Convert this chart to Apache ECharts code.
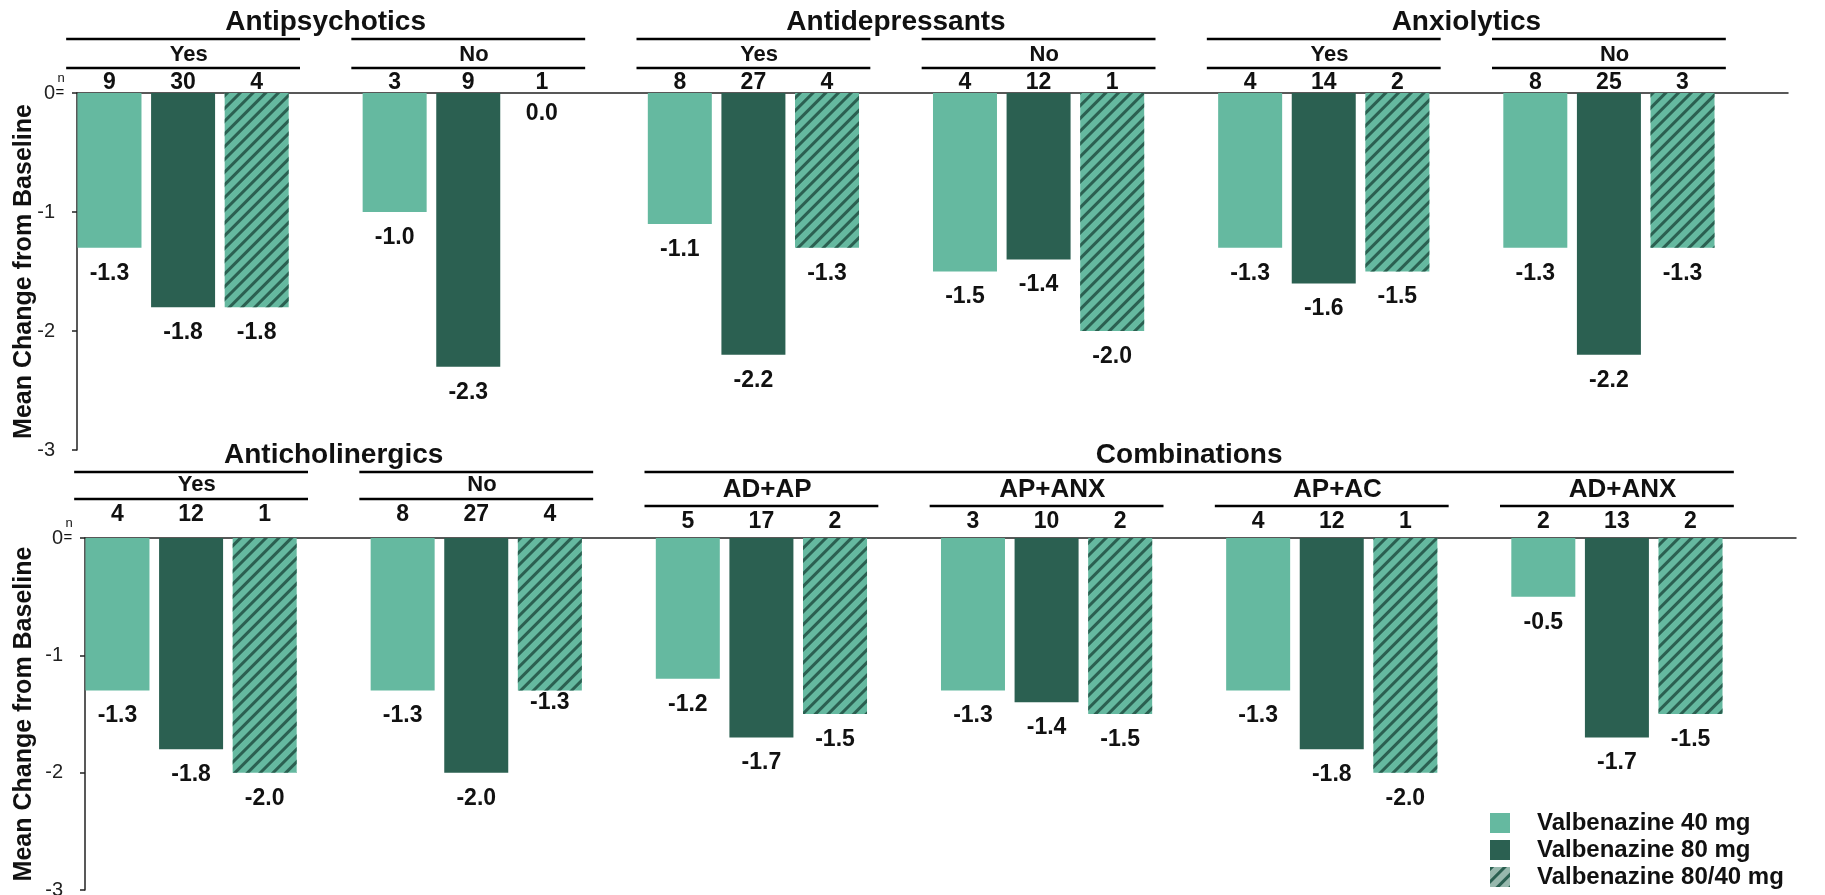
<!DOCTYPE html>
<html>
<head>
<meta charset="utf-8">
<title>Valbenazine - mean change from baseline by concomitant medication</title>
<script src="https://cdn.jsdelivr.net/npm/echarts@6/dist/echarts.min.js"></script>
<style>
  html, body { margin: 0; padding: 0; background: #fff; }
  #chart { width: 1825px; height: 895px; }
</style>
</head>
<body>
<div id="chart"></div>
<script>
// 数据
const seriesNames = ['Valbenazine 40 mg', 'Valbenazine 80 mg', 'Valbenazine 80/40 mg']

// top row: antipsychotics / antidepressants / anxiolytics, yes + no each
const topClasses = ['Antipsychotics', 'Antidepressants', 'Anxiolytics']
const topGroups = ['Yes', 'No', 'Yes', 'No', 'Yes', 'No']
const top40 = [-1.3, -1.0, -1.1, -1.5, -1.3, -1.3]
const top80 = [-1.8, -2.3, -2.2, -1.4, -1.6, -2.2]
const top8040 = [-1.8, 0.0, -1.3, -2.0, -1.5, -1.3]
const topN40 = [9, 3, 8, 4, 4, 8]
const topN80 = [30, 9, 27, 12, 14, 25]
const topN8040 = [4, 1, 4, 1, 2, 3]

// bottom row: anticholinergics yes/no + combinations
const botClasses = ['Anticholinergics', 'Combinations']
const botGroups = ['Yes', 'No', 'AD+AP', 'AP+ANX', 'AP+AC', 'AD+ANX']
const bot40 = [-1.3, -1.3, -1.2, -1.3, -1.3, -0.5]
const bot80 = [-1.8, -2.0, -1.7, -1.4, -1.8, -1.7]
const bot8040 = [-2.0, -1.3, -1.5, -1.5, -2.0, -1.5]
const botN40 = [4, 8, 5, 3, 4, 2]
const botN80 = [12, 27, 17, 10, 12, 13]
const botN8040 = [1, 4, 2, 2, 1, 2]

const yTicks = [0, -1, -2, -3]

// 样式
const FONT = '"Liberation Sans", Arial, sans-serif'
const LIGHT = '#65b9a0'
const DARK = '#2b6051'
const INK = '#111'
const hatch = {
  symbol: 'rect',
  symbolSize: 1,
  dashArrayX: [1, 0],
  dashArrayY: [3, 6],
  rotation: -Math.PI / 4,
  color: DARK
}
const barStyles = [
  {color: LIGHT},
  {color: DARK},
  {color: LIGHT, decal: hatch}
]
const X_MIN = -0.372
const X_MAX = 5.628
const HALF = 0.41 // half width of the header rules, in group units
const LABEL_DIST = 14
// a few value labels sit closer to their bar in the original: 'row-series-index': distance
const labelDist = {'0-2-1': 9, '1-2-1': 1}

// header offsets above the zero line (px)
const headTop = {title: 71, line1: 54, label: 38, labelSize: 22, line2: 25, n: 10}
const headBot = {title: 83, line1: 66, label: 53, labelSize: 22, line2: 39, n: 23}
const headComb = {title: 83, line1: 66, label: 48, labelSize: 26, line2: 32, n: 16}

const rows = [
  {
    groups: topGroups,
    values: [top40, top80, top8040],
    n: [topN40, topN80, topN8040],
    grid: {left: 77, top: 93, width: 1711, height: 357},
    nameGap: 40,
    blocks: [
      {title: topClasses[0], from: 0, to: 1, joined: false, head: headTop},
      {title: topClasses[1], from: 2, to: 3, joined: false, head: headTop},
      {title: topClasses[2], from: 4, to: 5, joined: false, head: headTop}
    ]
  },
  {
    groups: botGroups,
    values: [bot40, bot80, bot8040],
    n: [botN40, botN80, botN8040],
    grid: {left: 85, top: 538, width: 1711, height: 352},
    nameGap: 48,
    blocks: [
      {title: botClasses[0], from: 0, to: 1, joined: false, head: headBot},
      {title: botClasses[1], from: 2, to: 5, joined: true, head: headComb}
    ]
  }
]

const chart = echarts.init(document.getElementById('chart'))

function barSeries (row, r, k) {
  return {
    name: seriesNames[k],
    type: 'bar',
    xAxisIndex: r,
    yAxisIndex: r,
    barWidth: 64,
    barGap: '15%',
    itemStyle: barStyles[k],
    label: {
      show: true,
      position: 'bottom',
      distance: LABEL_DIST,
      color: INK,
      fontFamily: FONT,
      fontWeight: 'bold',
      fontSize: 23,
      formatter: p => p.value[1].toFixed(1)
    },
    data: row.values[k].map((v, i) => {
      const item = {value: [i, v]}
      const d = labelDist[r + '-' + k + '-' + i]
      if (d !== undefined) item.label = {distance: d}
      return item
    })
  }
}

const option = {
  animation: false,
  backgroundColor: '#fff',
  grid: rows.map(row => Object.assign({outerBoundsMode: 'none', containLabel: false}, row.grid)),
  xAxis: rows.map((row, r) => ({
    type: 'value',
    gridIndex: r,
    min: X_MIN,
    max: X_MAX,
    position: 'top',
    axisLine: {show: true, onZero: false, lineStyle: {color: '#222', width: 1.5}},
    axisTick: {show: false},
    axisLabel: {show: false},
    splitLine: {show: false}
  })),
  yAxis: rows.map((row, r) => ({
    type: 'value',
    gridIndex: r,
    position: 'left',
    min: yTicks[yTicks.length - 1],
    max: yTicks[0],
    interval: 1,
    name: 'Mean Change from Baseline',
    nameLocation: 'middle',
    nameRotate: 90,
    nameGap: row.nameGap,
    nameMoveOverlap: false,
    nameTextStyle: {color: INK, fontFamily: FONT, fontWeight: 'bold', fontSize: 25},
    axisLine: {show: true, onZero: false, lineStyle: {color: '#222', width: 1.5}},
    axisTick: {show: true, length: 5, lineStyle: {color: '#222', width: 1.5}},
    axisLabel: {color: '#222', fontFamily: FONT, fontSize: 20, margin: 22},
    splitLine: {show: false}
  })),
  legend: {
    orient: 'vertical',
    left: 1490,
    bottom: 6,
    padding: 0,
    itemWidth: 20,
    itemHeight: 20,
    itemGap: 3,
    icon: 'rect',
    selectedMode: false,
    textStyle: {
      color: INK, fontFamily: FONT, fontWeight: 'bold', fontSize: 24,
      lineHeight: 20, padding: [0, 0, 0, 22]
    },
    data: [
      seriesNames[0],
      seriesNames[1],
      {name: seriesNames[2], itemStyle: {color: '#97b8ad', decal: hatch}}
    ]
  },
  series: []
}
rows.forEach((row, r) => {
  for (let k = 0; k < 3; k++) option.series.push(barSeries(row, r, k))
})

chart.setOption(option)

// 表头：分组标题、横线、n 值
function txt (s, x, y, size, weight) {
  return {
    type: 'text',
    silent: true,
    style: {
      text: s, x: x, y: y, fill: INK, align: 'center', verticalAlign: 'middle',
      font: (weight || 'bold') + ' ' + size + 'px ' + FONT
    }
  }
}
function rule (x1, x2, y) {
  return {
    type: 'line',
    silent: true,
    shape: {x1: x1, y1: y, x2: x2, y2: y},
    style: {stroke: '#000', lineWidth: 2.5}
  }
}

function buildHeaders () {
  const g = []
  rows.forEach((row, r) => {
    const y0 = row.grid.top
    const px = v => chart.convertToPixel({xAxisIndex: r}, v)
    const blockOf = i => row.blocks.find(b => i >= b.from && i <= b.to)

    row.blocks.forEach(b => {
      const h = b.head
      g.push(txt(b.title, (px(b.from) + px(b.to)) / 2, y0 - h.title, 28))
      if (b.joined) g.push(rule(px(b.from - HALF), px(b.to + HALF), y0 - h.line1))
      for (let i = b.from; i <= b.to; i++) {
        if (!b.joined) g.push(rule(px(i - HALF), px(i + HALF), y0 - h.line1))
        g.push(txt(row.groups[i], px(i + 0.02), y0 - h.label, h.labelSize))
        g.push(rule(px(i - HALF), px(i + HALF), y0 - h.line2))
      }
    })

    // n per bar, centred on the bar layout
    for (let k = 0; k < 3; k++) {
      const data = chart.getModel().getSeriesByIndex(r * 3 + k).getData()
      for (let i = 0; i < row.n[k].length; i++) {
        const lay = data.getItemLayout(i)
        const cx = lay.x + lay.width / 2
        g.push(txt(String(row.n[k][i]), cx, y0 - blockOf(i).head.n, 23))
      }
    }

    // little "n =" marker beside the zero tick
    const ax = row.grid.left
    g.push(txt('n', ax - 16, y0 - 15, 13, 'normal'))
    g.push(txt('=', ax - 17, y0, 15, 'normal'))
  })
  return g
}

chart.setOption({graphic: buildHeaders()})
</script>
</body>
</html>
